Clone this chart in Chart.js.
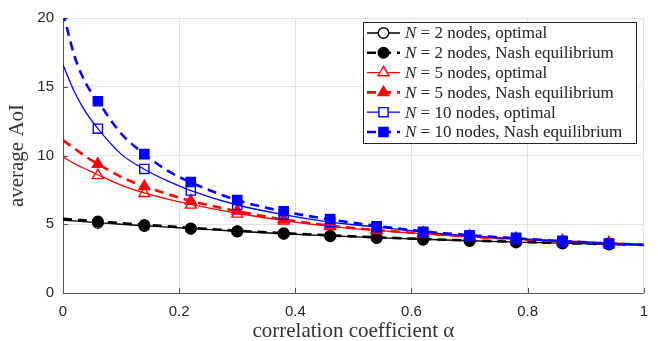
<!DOCTYPE html>
<html lang="en">
<head>
    <meta charset="UTF-8">
    <title>average AoI vs correlation coefficient</title>
    <script src="https://cdn.jsdelivr.net/npm/chart.js@4.4.1/dist/chart.umd.min.js"></script>
    <style>
        html, body { margin: 0; padding: 0; background: #fff; }
        .chart-container { width: 658px; height: 341px; position: relative; }
    </style>
</head>
<body>
    <div class="chart-container">
        <canvas id="aoiChart"></canvas>
    </div>

    <script>
        // smooth curves
        const curveX = [0, 0.02, 0.04, 0.06, 0.10, 0.14, 0.18, 0.22, 0.30, 0.38, 0.46, 0.54, 0.62, 0.70, 0.78, 0.86, 0.94, 1.0];
        const n2OptCurve  = [5.30, 5.24, 5.18, 5.12, 5.00, 4.89, 4.79, 4.69, 4.49, 4.31, 4.16, 4.03, 3.91, 3.80, 3.70, 3.62, 3.54, 3.50];
        const n2NashCurve = [5.40, 5.33, 5.27, 5.20, 5.08, 4.96, 4.85, 4.74, 4.53, 4.35, 4.19, 4.05, 3.93, 3.82, 3.72, 3.63, 3.55, 3.50];
        const n5OptCurve  = [9.90, 9.40, 9.00, 8.60, 7.85, 7.28, 6.82, 6.45, 5.80, 5.27, 4.85, 4.55, 4.30, 4.08, 3.90, 3.74, 3.60, 3.50];
        const n5NashCurve = [11.10, 10.50, 9.90, 9.38, 8.45, 7.75, 7.20, 6.70, 5.95, 5.35, 4.90, 4.58, 4.33, 4.10, 3.92, 3.76, 3.60, 3.50];
        const n10OptCurve = [16.60, 14.60, 13.10, 11.95, 10.10, 9.00, 8.15, 7.45, 6.40, 5.70, 5.15, 4.80, 4.45, 4.15, 3.93, 3.75, 3.60, 3.50];
        const n10NashCurve = [20.40, 17.20, 15.20, 13.95, 11.60, 10.10, 8.90, 8.05, 6.75, 5.93, 5.35, 4.88, 4.48, 4.20, 3.98, 3.78, 3.60, 3.50];

        // markers
        const markX = [0.06, 0.14, 0.22, 0.30, 0.38, 0.46, 0.54, 0.62, 0.70, 0.78, 0.86, 0.94];
        const n2OptMarks  = [5.10, 4.88, 4.68, 4.48, 4.30, 4.13, 4.00, 3.88, 3.78, 3.68, 3.60, 3.52];
        const n2NashMarks = [5.20, 4.95, 4.70, 4.50, 4.35, 4.17, 4.03, 3.92, 3.82, 3.72, 3.63, 3.55];
        const n5OptMarks  = [8.55, 7.25, 6.40, 5.75, 5.25, 4.85, 4.55, 4.30, 4.08, 3.90, 3.74, 3.60];
        const n5NashMarks = [9.38, 7.75, 6.70, 5.98, 5.38, 4.95, 4.62, 4.38, 4.15, 3.97, 3.80, 3.65];
        const n10OptMarks = [11.95, 9.02, 7.45, 6.40, 5.70, 5.15, 4.78, 4.42, 4.15, 3.93, 3.75, 3.58];
        const n10NashMarks = [13.95, 10.10, 8.07, 6.76, 5.95, 5.38, 4.86, 4.45, 4.19, 4.02, 3.79, 3.60];

        const xTicks = [0, 0.2, 0.4, 0.6, 0.8, 1];
        const yTicks = [0, 5, 10, 15, 20];

        const legendNs = ['2', '2', '5', '5', '10', '10'];
        const legendRest = ['nodes, optimal', 'nodes, Nash equilibrium', 'nodes, optimal', 'nodes, Nash equilibrium', 'nodes, optimal', 'nodes, Nash equilibrium'];

        const series = [
            { curve: n2OptCurve,  marks: n2OptMarks,  color: '#000000', dashed: false, style: 'circle',   filled: false, r: 5.3 },
            { curve: n2NashCurve, marks: n2NashMarks, color: '#000000', dashed: true,  style: 'circle',   filled: true,  r: 5.3 },
            { curve: n5OptCurve,  marks: n5OptMarks,  color: '#ff0000', dashed: false, style: 'triangle', filled: false, r: 6.3 },
            { curve: n5NashCurve, marks: n5NashMarks, color: '#ff0000', dashed: true,  style: 'triangle', filled: true,  r: 6.3 },
            { curve: n10OptCurve, marks: n10OptMarks, color: '#0000ff', dashed: false, style: 'rect',     filled: false, r: 6.5 },
            { curve: n10NashCurve, marks: n10NashMarks, color: '#0000ff', dashed: true, style: 'rect',    filled: true,  r: 6.5 }
        ];

        const lineWidthSolid = 1.3;
        const lineWidthDash = 2.6;
        const dashPattern = [9, 6];

        const datasets = [];
        series.forEach((s, i) => {
            datasets.push({
                type: 'line',
                data: curveX.map((x, k) => ({ x: x, y: s.curve[k] })),
                borderColor: s.color,
                borderWidth: s.dashed ? lineWidthDash : lineWidthSolid,
                borderDash: s.dashed ? dashPattern : [],
                pointRadius: 0,
                cubicInterpolationMode: 'monotone',
                fill: false,
                order: 100 - 2 * i
            });
            datasets.push({
                type: 'line',
                showLine: false,
                data: markX.map((x, k) => ({ x: x, y: s.marks[k] })),
                pointStyle: s.style,
                pointRadius: s.r,
                pointBorderWidth: 1.4,
                pointBorderColor: s.color,
                pointBackgroundColor: s.filled ? s.color : 'rgba(255,255,255,0)',
                order: 99 - 2 * i
            });
        });

        // inward tick marks like the original axes
        const inwardTicks = {
            id: 'inwardTicks',
            beforeDatasetsDraw(chart) {
                const { ctx, chartArea, scales } = chart;
                ctx.save();
                ctx.strokeStyle = '#555';
                ctx.lineWidth = 1;
                ctx.beginPath();
                xTicks.forEach(v => {
                    const px = Math.round(scales.x.getPixelForValue(v)) + 0.5;
                    ctx.moveTo(px, chartArea.bottom);
                    ctx.lineTo(px, chartArea.bottom - 5);
                });
                yTicks.forEach(v => {
                    const py = Math.round(scales.y.getPixelForValue(v)) + 0.5;
                    ctx.moveTo(chartArea.left, py);
                    ctx.lineTo(chartArea.left + 5, py);
                });
                ctx.stroke();
                ctx.restore();
            }
        };

        // legend with line + marker samples
        const boxLegend = {
            id: 'boxLegend',
            afterDraw(chart) {
                const { ctx } = chart;
                const bx = 363.5, by = 22.5, bw = 273, bh = 121;
                ctx.save();
                ctx.fillStyle = '#fff';
                ctx.fillRect(bx, by, bw, bh);
                ctx.strokeStyle = '#262626';
                ctx.lineWidth = 1;
                ctx.strokeRect(bx, by, bw, bh);
                series.forEach((s, i) => {
                    const y = 33 + i * 19.8;
                    ctx.beginPath();
                    ctx.strokeStyle = s.color;
                    ctx.lineWidth = s.dashed ? lineWidthDash : lineWidthSolid;
                    ctx.setLineDash(s.dashed ? dashPattern : []);
                    ctx.moveTo(367, y);
                    ctx.lineTo(400, y);
                    ctx.stroke();
                    ctx.setLineDash([]);
                    ctx.strokeStyle = s.color;
                    ctx.fillStyle = s.filled ? s.color : '#fff';
                    ctx.lineWidth = 1.4;
                    Chart.helpers.drawPoint(ctx, { pointStyle: s.style, radius: s.r, borderWidth: 1.4 }, 383.5, y);
                    ctx.fillStyle = '#222';
                    ctx.textBaseline = 'middle';
                    ctx.font = 'italic 17px "Liberation Serif"';
                    ctx.fillText('N', 405, y + 1);
                    const x = 405 + ctx.measureText('N').width;
                    ctx.font = '17px "Liberation Serif"';
                    ctx.fillText(' = ' + legendNs[i] + ' ' + legendRest[i], x, y + 1);
                });
                ctx.restore();
            }
        };

        const ctx = document.getElementById('aoiChart').getContext('2d');
        new Chart(ctx, {
            type: 'line',
            data: { datasets: datasets },
            options: {
                responsive: true,
                maintainAspectRatio: false,
                animation: false,
                layout: { padding: { top: 13, right: 13, left: 0, bottom: 0 } },
                plugins: {
                    legend: { display: false },
                    tooltip: { enabled: false }
                },
                scales: {
                    x: {
                        type: 'linear',
                        min: 0,
                        max: 1,
                        afterBuildTicks: scale => { scale.ticks = xTicks.map(v => ({ value: v })); },
                        afterFit: scale => { scale.height = 48; },
                        grid: { color: '#e3e3e3', drawTicks: false },
                        border: { color: '#555', width: 1 },
                        ticks: {
                            padding: 10,
                            color: '#262626',
                            font: { family: '"Liberation Sans", Arial, sans-serif', size: 15 },
                            callback: v => String(v)
                        },
                        title: {
                            display: true,
                            text: 'correlation coefficient α',
                            color: '#333',
                            font: { family: '"Liberation Serif", serif', size: 21 },
                            padding: { top: 0, bottom: -3 }
                        }
                    },
                    y: {
                        min: 0,
                        max: 20,
                        afterBuildTicks: scale => { scale.ticks = yTicks.map(v => ({ value: v })); },
                        afterFit: scale => { scale.width = 63; },
                        grid: { color: '#e3e3e3', drawTicks: false },
                        border: { color: '#555', width: 1 },
                        ticks: {
                            padding: 9,
                            color: '#262626',
                            font: { family: '"Liberation Sans", Arial, sans-serif', size: 15 }
                        },
                        title: {
                            display: true,
                            text: 'average AoI',
                            color: '#333',
                            font: { family: '"Liberation Serif", serif', size: 21 },
                            padding: { top: 5, bottom: 0 }
                        }
                    }
                }
            },
            plugins: [inwardTicks, boxLegend]
        });
    </script>
</body>
</html>
